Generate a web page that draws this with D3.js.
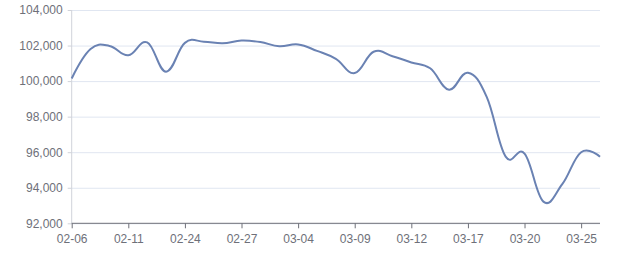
<!DOCTYPE html>
<html>
<head>
<meta charset="utf-8">
<script src="https://cdn.jsdelivr.net/npm/d3@7"></script>
<style>
  body { margin: 0; background: #fff; }
  svg { display: block; font-family: "Microsoft YaHei", "Noto Sans", sans-serif; }
  .grid line { stroke: #e0e6f1; }
  .grid path { display: none; }
</style>
</head>
<body>
<svg width="640" height="270"></svg>
<script>
// dates of the trading days (only every 3rd one gets a label)
const dates = ["02-06","02-09","02-10","02-11","02-12","02-13","02-24","02-25","02-26","02-27",
  "03-02","03-03","03-04","03-05","03-06","03-09","03-10","03-11","03-12","03-13",
  "03-16","03-17","03-18","03-19","03-20","03-23","03-24","03-25","03-26"];
// price
const prices = [100150, 101800, 101980, 101450, 102180, 100530, 102150, 102220, 102130, 102280,
  102200, 101960, 102060, 101700, 101250, 100450, 101650, 101400, 101050, 100720,
  99520, 100470, 99100, 95750, 95920, 93220, 94200, 96000, 95750];
const yTicks = [92000, 94000, 96000, 98000, 100000, 102000, 104000];

const margin = {left: 71.7, right: 40, top: 10, bottom: 46.7};
const width = 640 - margin.left - margin.right;
const height = 270 - margin.top - margin.bottom;

const svg = d3.select('svg');
const chart = svg.append('g')
  .attr('transform', `translate(${margin.left}, ${margin.top})`);

const xScale = d3.scalePoint()
  .domain(dates)
  .range([0, width]);

const yScale = d3.scaleLinear()
  .domain([92000, 104000])
  .range([height, 0]);

// horizontal grid
chart.append('g')
  .attr('class', 'grid')
  .call(d3.axisLeft(yScale).tickValues(yTicks).tickSize(-width).tickFormat(''));

// y axis: light line, short ticks, labels
const yAxis = chart.append('g')
  .call(d3.axisLeft(yScale).tickValues(yTicks).tickSize(4).tickPadding(5)
    .tickFormat(d3.format(',')));
yAxis.select('.domain').attr('stroke', '#d0d3da').attr('d', `M0,0V${height}`);
yAxis.selectAll('.tick line').attr('stroke', '#d0d3da');
yAxis.selectAll('text').attr('fill', '#6e7079').style('font-size', '12px');

// x axis, label every 3rd point
const xAxis = chart.append('g')
  .attr('transform', `translate(0, ${height})`)
  .call(d3.axisBottom(xScale)
    .tickValues(dates.filter((d, i) => i % 3 === 0))
    .tickSize(5).tickPadding(6));
xAxis.select('.domain').attr('stroke', '#6e7079').attr('d', `M0,0H${width}`);
xAxis.selectAll('.tick line').attr('stroke', '#6e7079');
xAxis.selectAll('text').attr('fill', '#6e7079').style('font-size', '12px');

// the price line
const line = d3.line()
  .x((d, i) => xScale(dates[i]))
  .y(d => yScale(d))
  .curve(d3.curveCardinal.tension(-0.2));

chart.append('path')
  .datum(prices)
  .attr('fill', 'none')
  .attr('stroke', '#6a82b3')
  .attr('stroke-width', 2)
  .attr('stroke-linejoin', 'round')
  .attr('d', line);
</script>
</body>
</html>
